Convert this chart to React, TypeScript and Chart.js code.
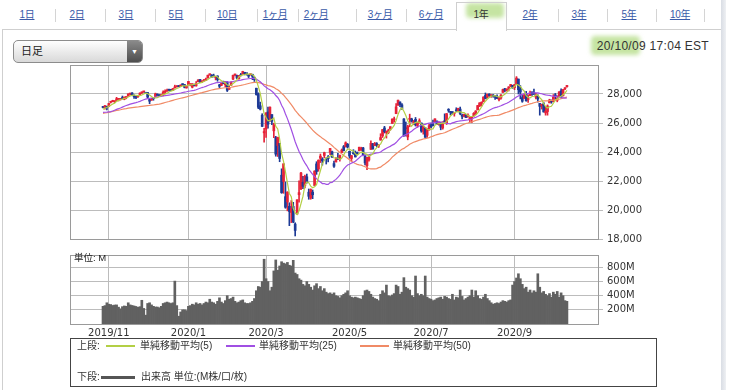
import React, { useEffect, useRef } from 'react';
import { Chart, registerables } from 'chart.js';
Chart.register(...registerables);

// ---- x axis: trading-day index, month boundaries ----
const monthTickIndex = [3, 44, 84, 127, 169, 212];
const monthTickLabels = ['2019/11', '2020/1', '2020/3', '2020/5', '2020/7', '2020/9'];
const priceTicks = [18000, 20000, 22000, 24000, 26000, 28000];
const volumeTicks = [200, 400, 600, 800];

// closes before the visible window (used only for moving averages)
const priorCloses = [
  25963, 26203, 26253, 25629, 25899, 25778, 26037, 26363, 26403,
  26119, 26356, 26728, 26797, 26835, 26909, 27137, 27182, 27220, 27076, 27111, 27147, 27095, 26935, 26949, 26808, 26971, 26891, 26820, 26917,
  26573, 26079, 26201, 26573, 26478, 26165, 26347, 26497, 26817, 26787, 27025, 27001, 27026, 26770, 26828, 26789, 26834, 26806, 26958, 27091,
];

const opens = [
  27090, 27060, 27150,
  27150, 27430, 27480, 27470, 27560, 27630, 27620, 27700, 27640, 27760, 27860, 28000, 28070, 27900, 27820, 27810, 27920, 28080, 28150, 28100,
  28100, 27620, 27580, 27700, 27830, 27990, 27900, 27890, 27890, 28120, 28190, 28270, 28280, 28250, 28420, 28490, 28560, 28540, 28670, 28650, 28420,
  28640, 28630, 28470, 28640, 28560, 28850, 29000, 28830, 28900, 28940, 29100, 29330, 29300, 29260, 29150, 29240, 28630, 28600, 28820, 28640, 28810,
  28320, 28600, 29030, 29310, 29290, 29050, 29320, 29370, 29440, 29440, 29280, 29320, 29350, 29140, 28400, 28020, 27190, 26540, 25320,
  25590, 26760, 26380, 26580, 25460, 24990, 24450, 24600, 22400, 21970, 20920, 20550, 20250, 19830, 20250, 19030, 19720, 21050, 21470, 21900, 21680, 22290,
  21230, 20820, 21230, 21690, 23180, 22830, 23570, 23520, 23760, 23570, 23660, 23980, 24020, 23200, 23310, 23540, 23510, 23960, 24370, 24360, 24530,
  24050, 23550, 23950, 23970, 23880, 24080, 24170, 24280, 23740, 23060, 23450, 24180, 24560, 24440, 24580, 24410, 24820, 25110, 25660, 25340,
  25340, 25580, 25970, 26220, 26640, 27230, 27450, 27250, 26280, 25660, 25040, 26250, 26280, 26030, 26250, 25830, 26090, 26000, 25430, 25670, 25150, 25520,
  25880, 25900, 26050, 26140, 25920, 26030, 25650, 26150, 25960, 26900, 26740, 26780, 26660, 26890, 26830, 26960, 26520, 26470, 26540, 26430, 26290, 26340,
  26480, 26640, 26910, 27180, 27350, 27470, 27900, 27780, 27990, 27880, 27930, 27890, 27790, 27620, 27720, 28110, 28360, 28260, 28380, 28560, 28600,
  28440, 28690, 29030, 28350, 27750, 27700, 28030, 27620, 27880, 28090, 28060, 27780, 27820, 27350, 27190, 27330, 26700, 26790, 27390, 27580, 27490,
  27940, 27560, 27790, 28220, 27870, 28360, 28500,
];

const highs = [
  27150, 27220, 27170,
  27360, 27500, 27570, 27530, 27770, 27690, 27700, 27860, 27800, 27800, 28010, 28040, 28090, 27940, 27840, 27900, 28080, 28140, 28175, 28110,
  28110, 27640, 27700, 27720, 28060, 28010, 27960, 27940, 28220, 28290, 28340, 28290, 28330, 28380, 28610, 28580, 28580, 28630, 28700, 28660, 28550,
  28870, 28720, 28710, 28680, 28860, 29000, 29010, 28910, 29010, 29100, 29300, 29375, 29340, 29370, 29180, 29260, 28670, 28760, 28890, 28860, 28860,
  28550, 28850, 29310, 29380, 29300, 29280, 29420, 29570, 29500, 29440, 29340, 29410, 29370, 29160, 28400, 28080, 27440, 26640, 25630,
  26710, 27100, 27110, 26580, 25990, 25080, 25020, 24600, 22840, 23190, 21930, 21260, 20500, 20650, 20530, 19120, 20710, 22020, 22600, 22330, 22400, 22480,
  21450, 21460, 21380, 22710, 23330, 23460, 23860, 23610, 23990, 23590, 23760, 24260, 24060, 23380, 23620, 23900, 23790, 24210, 24450, 24700, 24590,
  24050, 23760, 24160, 24070, 24000, 24330, 24330, 24330, 23760, 23630, 23690, 24770, 24600, 24660, 24650, 24520, 25260, 25560, 25770, 25460,
  25570, 25750, 26290, 26410, 27340, 27580, 27460, 27340, 26300, 26070, 25850, 26610, 26330, 26180, 26380, 26030, 26290, 26000, 25750, 25670, 25600, 25900,
  26000, 26200, 26290, 26140, 26070, 26050, 26080, 26630, 26660, 26990, 26760, 26780, 26710, 27050, 27020, 27100, 26620, 26610, 26600, 26630, 26390, 26440,
  26720, 26850, 27220, 27400, 27460, 27810, 28070, 28000, 28020, 27950, 27960, 27900, 27950, 27760, 27960, 28340, 28390, 28360, 28500, 28660, 28610,
  28660, 29200, 29030, 28580, 27900, 28000, 28180, 27940, 28200, 28170, 28340, 28050, 27950, 27350, 27300, 27420, 27110, 27250, 27640, 27580, 27960,
  28040, 27880, 28160, 28350, 28320, 28440, 28600,
];

const lows = [
  27040, 26960, 26900,
  27120, 27380, 27460, 27400, 27540, 27520, 27580, 27660, 27600, 27670, 27850, 27930, 27900, 27700, 27680, 27760, 27910, 28030, 28110, 28040,
  27730, 27330, 27560, 27570, 27820, 27900, 27830, 27850, 27870, 28030, 28190, 28210, 28230, 28230, 28410, 28480, 28500, 28530, 28590, 28420, 28400,
  28630, 28560, 28420, 28550, 28540, 28840, 28780, 28780, 28880, 28920, 29100, 29290, 29130, 29180, 28970, 28880, 28440, 28570, 28700, 28500, 28170,
  28320, 28580, 28990, 29240, 29060, 29020, 29240, 29360, 29320, 29300, 29130, 29300, 28990, 28860, 27920, 26990, 26900, 25760, 24680,
  25000, 25650, 26110, 25890, 24990, 23710, 23690, 23330, 21150, 21150, 20120, 19940, 18920, 19130, 19120, 18210, 19720, 20540, 21400, 21470, 21520, 21850,
  20740, 20740, 20780, 21690, 22460, 22670, 23270, 23090, 23600, 23170, 23320, 23810, 23630, 22940, 23310, 23470, 23370, 23960, 24070, 24340, 24270,
  23580, 23360, 23840, 23650, 23830, 24080, 24100, 23760, 23110, 22790, 23360, 24180, 24200, 24440, 24370, 24310, 24820, 25000, 25310, 24960,
  25260, 25500, 25970, 26060, 26640, 27210, 27120, 26930, 25080, 25100, 24840, 25740, 26060, 25880, 25790, 25700, 25990, 25360, 25230, 25000, 25000, 25510,
  25680, 25800, 26020, 25880, 25850, 25530, 25570, 26080, 25900, 26740, 26550, 26600, 26470, 26790, 26800, 26570, 26290, 26420, 26370, 26410, 26100, 26020,
  26480, 26580, 26900, 27130, 27170, 27460, 27660, 27730, 27830, 27770, 27780, 27630, 27670, 27520, 27640, 28110, 28150, 28200, 28210, 28500, 28390,
  28300, 28680, 28000, 27660, 27430, 27700, 27500, 27420, 27880, 27900, 27950, 27660, 27440, 26540, 26960, 26750, 26540, 26540, 27390, 27360, 27470,
  27640, 27460, 27790, 27710, 27860, 28300, 28470,
];

const closes = [
  27071, 27186, 27046,
  27347, 27462, 27492, 27492, 27675, 27681, 27691, 27691, 27784, 27782, 28005, 28036, 27934, 27821, 27766, 27876, 28066, 28122, 28164, 28051,
  27783, 27503, 27650, 27678, 28015, 27910, 27881, 27911, 28132, 28135, 28235, 28268, 28239, 28377, 28455, 28551, 28515, 28621, 28645, 28462, 28538,
  28868, 28634, 28703, 28583, 28745, 28957, 28824, 28907, 28940, 29030, 29298, 29348, 29196, 29186, 29160, 28990, 28535, 28723, 28734, 28859, 28256,
  28400, 28808, 29291, 29380, 29103, 29277, 29276, 29551, 29424, 29398, 29232, 29348, 29220, 28992, 27961, 27081, 26957, 25767, 25409,
  26703, 25917, 27091, 26121, 25865, 23851, 25018, 23553, 21200, 23186, 20189, 21237, 19899, 20087, 19174, 18592, 20705, 21201, 22552, 21637, 22327, 21917,
  20944, 21413, 21053, 22680, 22654, 23434, 23719, 23391, 23950, 23505, 23538, 24242, 23650, 23019, 23475, 23516, 23775, 24134, 24102, 24634, 24346,
  23724, 23750, 23883, 23664, 23875, 24331, 24221, 23764, 23248, 23625, 23685, 24597, 24207, 24576, 24474, 24465, 24995, 25548, 25401, 25383,
  25475, 25742, 26270, 26282, 27111, 27572, 27272, 26990, 25128, 25606, 25763, 26290, 26120, 26080, 25871, 26025, 26156, 25446, 25745, 25016, 25596, 25813,
  25735, 25827, 26287, 25891, 26067, 25707, 26075, 26086, 26643, 26870, 26735, 26672, 26681, 26841, 27006, 26653, 26470, 26585, 26379, 26540, 26314, 26428,
  26665, 26828, 27202, 27387, 27433, 27791, 27687, 27977, 27897, 27931, 27845, 27778, 27693, 27740, 27930, 28308, 28249, 28332, 28492, 28654, 28430,
  28646, 29100, 28293, 28133, 27501, 27940, 27535, 27666, 27993, 27996, 28032, 27902, 27657, 27148, 27288, 26763, 26815, 27174, 27584, 27452, 27782,
  27817, 27683, 28149, 27773, 28303, 28426, 28587,
];

// volume, millions
const volumes = [
  250, 260, 300,
  280, 275, 262, 268, 270, 238, 215, 245, 255, 250, 300, 270, 262, 255, 248, 236, 245, 335, 220, 125,
  290, 300, 270, 250, 240, 240, 230, 250, 290, 300, 310, 300, 290, 300, 606, 260, 110, 170, 200, 200, 190,
  250, 260, 280, 270, 300, 280, 290, 270, 290, 310, 300, 350, 310, 300, 280, 320, 370, 310, 290, 330, 400,
  350, 360, 380, 320, 300, 310, 330, 340, 300, 290, 290, 300, 320, 360, 470, 530, 520, 600, 915,
  640, 600, 470, 520, 750, 905, 760, 820, 880, 860, 850, 870, 830, 820, 900, 720, 700, 640, 620, 560, 540, 600,
  560, 520, 480, 540, 570, 500, 530, 470, 500, 450, 430, 440, 420, 440, 400, 390, 370, 400, 420, 440, 470,
  400, 380, 370, 380, 370, 360, 350, 400, 470, 480, 460, 420, 380, 360, 350, 330, 420, 470, 440, 550,
  400, 390, 410, 430, 550, 530, 420, 450, 655, 520, 500, 480, 400, 380, 678, 430, 400, 420, 400, 678, 380, 360,
  350, 330, 340, 360, 370, 380, 350, 390, 380, 360, 350, 420, 340, 380, 370, 480, 390, 340, 360, 380, 400, 480,
  380, 470, 400, 360, 350, 380, 420, 360, 330, 300, 280, 290, 300, 290, 310, 330, 320, 310, 330, 340, 550,
  600, 650, 710, 640, 560, 500, 520, 450, 480, 440, 470, 450, 710, 520, 440, 460, 420, 400, 430, 380, 450,
  420, 460, 380, 440, 400, 330, 320,
];

const maPeriods = [5, 25, 50];
const maLabels = ['単純移動平均(5)', '単純移動平均(25)', '単純移動平均(50)'];

const tabLabels = ['1日', '2日', '3日', '5日', '10日', '1ヶ月', '2ヶ月', '3ヶ月', '6ヶ月', '1年', '2年', '3年', '5年', '10年'];
const selectedTab = '1年';
const timestamp = '20/10/09 17:04 EST';

const UP = '#e62238';
const DOWN = '#1d3a96';
const MA_COLORS = ['#b3cf45', '#a04fe3', '#f08a66'];
const GRID = '#bcbcbc';
const FRAME = '#9a9a9a';
const TICK_FONT = { family: '"DejaVu Sans", Verdana, sans-serif', size: 10 };

const frame = {
  id: 'frame',
  afterDraw(chart: any) {
    const { ctx, chartArea } = chart;
    ctx.save();
    ctx.strokeStyle = FRAME;
    ctx.lineWidth = 1;
    ctx.strokeRect(chartArea.left + 0.5, chartArea.top + 0.5, chartArea.right - chartArea.left, chartArea.bottom - chartArea.top);
    ctx.restore();
  },
};

const X_MIN = -17;
const X_MAX = 255;

export default function App() {
  const priceRef = useRef<HTMLCanvasElement>(null);
  const volRef = useRef<HTMLCanvasElement>(null);

  useEffect(() => {
    const colors = closes.map((c, i) => (c >= opens[i] ? UP : DOWN));
    const all = priorCloses.concat(closes);
    const sma = (n: number) =>
      closes.map((_, i) => {
        const end = i + priorCloses.length;
        let s = 0;
        for (let k = end - n + 1; k <= end; k++) s += all[k];
        return { x: i, y: s / n };
      });

    const xScale = (showLabels: boolean, h: number) => ({
      type: 'linear',
      min: X_MIN,
      max: X_MAX,
      offset: false,
      afterBuildTicks: (s: any) => {
        s.ticks = monthTickIndex.map((v) => ({ value: v }));
      },
      afterFit: (s: any) => {
        s.height = h;
      },
      ticks: {
        display: showLabels,
        autoSkip: false,
        maxRotation: 0,
        minRotation: 0,
        padding: 3,
        color: '#333',
        font: TICK_FONT,
        callback: (v: number) => {
          const k = monthTickIndex.indexOf(v);
          return k >= 0 ? monthTickLabels[k] : '';
        },
      },
      grid: { color: GRID, drawTicks: false, offset: false },
      border: { display: false },
    });

    const price = new Chart(priceRef.current as HTMLCanvasElement, {
      type: 'bar',
      data: {
        datasets: [
          ...maPeriods.map((n, k) => ({
            type: 'line',
            data: sma(n),
            borderColor: MA_COLORS[k],
            borderWidth: 1.2,
            pointRadius: 0,
            tension: 0,
            order: 0,
          })),
          {
            type: 'bar',
            data: closes.map((c, i) => ({ x: i, y: [opens[i], c] })),
            backgroundColor: colors,
            barThickness: 2,
            grouped: false,
            minBarLength: 1,
            order: 1,
          },
          {
            type: 'bar',
            data: closes.map((_, i) => ({ x: i, y: [lows[i], highs[i]] })),
            backgroundColor: colors,
            barThickness: 1,
            grouped: false,
            order: 2,
          },
        ] as any,
      },
      options: {
        responsive: false,
        maintainAspectRatio: false,
        animation: false,
        events: [],
        layout: { padding: { left: 70, right: 73, top: 10, bottom: 11 } },
        plugins: { legend: { display: false }, tooltip: { enabled: false } },
        scales: {
          x: xScale(false, 0) as any,
          y: {
            position: 'right',
            min: 18000,
            max: 30000,
            afterBuildTicks: (s: any) => {
              s.ticks = priceTicks.map((v) => ({ value: v }));
            },
            afterFit: (s: any) => {
              s.width = 60;
            },
            ticks: {
              color: '#333',
              font: TICK_FONT,
              padding: 4,
              callback: (v: any) => Number(v).toLocaleString('en-US'),
            },
            grid: { color: GRID, tickLength: 5 },
            border: { display: false },
          },
        },
      },
      plugins: [frame],
    });

    const vol = new Chart(volRef.current as HTMLCanvasElement, {
      type: 'bar',
      data: {
        datasets: [
          {
            data: volumes.map((v, i) => ({ x: i, y: v })),
            backgroundColor: '#616161',
            barThickness: 2,
            grouped: false,
          },
        ] as any,
      },
      options: {
        responsive: false,
        maintainAspectRatio: false,
        animation: false,
        events: [],
        layout: { padding: { left: 70, right: 73, top: 7, bottom: 4 } },
        plugins: { legend: { display: false }, tooltip: { enabled: false } },
        scales: {
          x: xScale(true, 17) as any,
          y: {
            position: 'right',
            min: 0,
            max: 975,
            afterBuildTicks: (s: any) => {
              s.ticks = volumeTicks.map((v) => ({ value: v }));
            },
            afterFit: (s: any) => {
              s.width = 60;
            },
            ticks: {
              color: '#333',
              font: TICK_FONT,
              padding: 4,
              callback: (v: any) => `${v}M`,
            },
            grid: { color: GRID, tickLength: 5 },
            border: { display: false },
          },
        },
      },
      plugins: [frame],
    });

    return () => {
      price.destroy();
      vol.destroy();
    };
  }, []);

  const tabCenters = [27, 77, 126, 176, 227, 275, 316, 380, 431, 481, 530, 579, 629, 680];
  const separators = [55, 105, 155, 205, 257, 298, 356, 406, 558, 607, 656, 704];
  const jp = '"Liberation Sans", Arial, "Noto Sans CJK JP", sans-serif';

  return (
    <div
      style={{
        position: 'absolute',
        left: 0,
        top: 0,
        width: 731,
        height: 390,
        overflow: 'hidden',
        background: '#fff',
        fontFamily: jp,
        color: '#333',
      }}
    >
      {/* panel frame */}
      <div style={{ position: 'absolute', left: 2, top: 29, width: 718, height: 380, borderLeft: '1px solid #cfcfcf', borderTop: '1px solid #cfcfcf', borderRight: '1px solid #b9bec6' }} />
      <div style={{ position: 'absolute', left: 721, top: 0, width: 5, height: 390, background: 'linear-gradient(90deg, #d9dde4, #eef0f3)' }} />

      {/* highlights */}
      <div style={{ position: 'absolute', left: 466, top: 3, width: 38, height: 15, background: 'rgba(150,205,85,0.55)', filter: 'blur(2px)', borderRadius: 4 }} />
      <div style={{ position: 'absolute', left: 591, top: 36, width: 49, height: 19, background: 'rgba(150,205,85,0.55)', filter: 'blur(2px)', borderRadius: 4 }} />

      {/* selected tab */}
      <div style={{ position: 'absolute', left: 456, top: 2, width: 49, height: 28, border: '1px solid #cfcfcf', borderBottom: 'none', background: 'transparent' }} />
      <div style={{ position: 'absolute', left: 457, top: 29, width: 49, height: 2, background: '#fff' }} />

      {separators.map((x, i) => (
        <div key={'s' + i} style={{ position: 'absolute', left: x, top: 9, width: 1, height: 13, background: '#d4d4d4' }} />
      ))}
      {tabLabels.map((t, i) => (
        <div
          key={t}
          style={{
            position: 'absolute',
            left: tabCenters[i],
            top: 8,
            transform: 'translateX(-50%)',
            fontSize: 10,
            lineHeight: '14px',
            whiteSpace: 'nowrap',
            color: t === selectedTab ? '#333' : '#3a5ba8',
            textDecoration: t === selectedTab ? 'none' : 'underline',
            letterSpacing: '-0.3px',
          }}
        >
          {t}
        </div>
      ))}

      {/* dropdown */}
      <div
        style={{
          position: 'absolute',
          left: 13,
          top: 40,
          width: 128,
          height: 21,
          border: '1px solid #8c8c8c',
          borderRadius: 5,
          background: 'linear-gradient(#fefefe, #d9d9d9)',
          overflow: 'hidden',
        }}
      >
        <div style={{ position: 'absolute', left: 7, top: 0, lineHeight: '21px', fontSize: 11, color: '#222' }}>日足</div>
        <div
          style={{
            position: 'absolute',
            right: 0,
            top: 0,
            width: 15,
            height: 21,
            background: 'linear-gradient(#8a8a8a, #4e4e4e)',
            color: '#fff',
            fontSize: 7,
            lineHeight: '21px',
            textAlign: 'center',
          }}
        >
          ▼
        </div>
      </div>

      {/* timestamp */}
      <div style={{ position: 'absolute', right: 22, top: 38, fontSize: 12, lineHeight: '16px', letterSpacing: '0.3px', color: '#333', whiteSpace: 'nowrap' }}>
        {timestamp}
      </div>

      <canvas ref={priceRef} width={731} height={195} style={{ position: 'absolute', left: 0, top: 55, width: 731, height: 195 }} />
      <canvas ref={volRef} width={731} height={100} style={{ position: 'absolute', left: 0, top: 245, width: 731, height: 100 }} />

      <div style={{ position: 'absolute', left: 74, top: 252, fontSize: 9.5, lineHeight: '12px', color: '#222', whiteSpace: 'nowrap' }}>単位: M</div>

      {/* legend */}
      <div style={{ position: 'absolute', left: 70, top: 338, width: 585, height: 47, border: '1px solid #444', fontSize: 10, color: '#333' }}>
        <div style={{ position: 'absolute', left: 6, top: 0, lineHeight: '14px', whiteSpace: 'nowrap' }}>上段:</div>
        {maLabels.map((l, k) => {
          const lineX = [35, 155, 289][k];
          const textX = [69, 188, 322][k];
          return (
            <React.Fragment key={l}>
              <div style={{ position: 'absolute', left: lineX, top: 6, width: 29, height: 2, background: MA_COLORS[k] }} />
              <div style={{ position: 'absolute', left: textX, top: 0, lineHeight: '14px', whiteSpace: 'nowrap' }}>{l}</div>
            </React.Fragment>
          );
        })}
        <div style={{ position: 'absolute', left: 6, top: 31, lineHeight: '14px', whiteSpace: 'nowrap' }}>下段:</div>
        <div style={{ position: 'absolute', left: 30, top: 37, width: 34, height: 3, background: '#555' }} />
        <div style={{ position: 'absolute', left: 70, top: 31, lineHeight: '14px', whiteSpace: 'nowrap' }}>出来高 単位:(M株/口/枚)</div>
      </div>
    </div>
  );
}
